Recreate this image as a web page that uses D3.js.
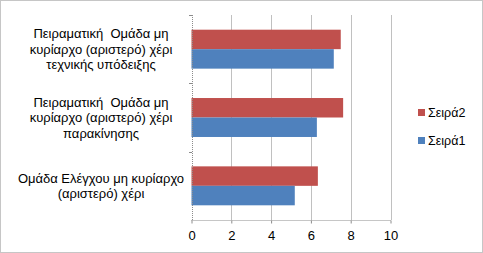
<!DOCTYPE html>
<html>
<head>
<meta charset="utf-8">
<script src="https://cdn.jsdelivr.net/npm/d3@7"></script>
<style>
  body { margin: 0; background: #fff; }
  text { font-family: "Liberation Sans", Arial, sans-serif; fill: #000; white-space: pre; }
</style>
</head>
<body>
<div id="chart"></div>
<script>
(function() {
  var width = 483, height = 253;

  // categories from top to bottom as in the chart
  var categories = [
    ["Πειραματική  Ομάδα μη", "κυρίαρχο (αριστερό) χέρι", "τεχνικής υπόδειξης"],
    ["Πειραματική  Ομάδα μη", "κυρίαρχο (αριστερό) χέρι", "παρακίνησης"],
    ["Ομάδα Ελέγχου μη κυρίαρχο", "(αριστερό) χέρι"]
  ];
  var seira2 = [7.5, 7.62, 6.35];
  var seira1 = [7.15, 6.3, 5.19];
  var seriesNames = ["Σειρά2", "Σειρά1"];
  var seriesColors = ["#C0504D", "#4F81BD"];
  var xTicks = [0, 2, 4, 6, 8, 10];

  var svg = d3.select("#chart").append("svg")
    .attr("width", width).attr("height", height);

  // outer border
  svg.append("rect")
    .attr("x", 0.5).attr("y", 0.5)
    .attr("width", width - 1).attr("height", height - 1)
    .style("fill", "none").style("stroke", "#8c8c8c")
    .style("stroke-dasharray", "1,1");

  var x = d3.scaleLinear().domain([0, 10]).range([191.5, 390.5]);
  var y = d3.scaleBand().domain(d3.range(categories.length))
    .range([15, 220]).paddingInner(0.43).paddingOuter(0.215);
  var ySub = d3.scaleBand().domain([0, 1]).range([0, y.bandwidth()]);

  // gridlines
  svg.append("g").selectAll("line").data(xTicks.slice(1)).enter()
    .append("line")
    .attr("x1", function(d) { return Math.round(x(d)) + 0.5; })
    .attr("x2", function(d) { return Math.round(x(d)) + 0.5; })
    .attr("y1", 15).attr("y2", 220)
    .style("stroke", "#c0c0c0").style("stroke-width", 1);

  // bars
  var groups = svg.append("g").selectAll("g").data(categories).enter()
    .append("g")
    .attr("transform", function(d, i) { return "translate(0," + y(i) + ")"; });

  groups.selectAll("rect").data(function(d, i) { return [seira2[i], seira1[i]]; })
    .enter().append("rect")
    .attr("x", x(0))
    .attr("y", function(d, j) { return ySub(j); })
    .attr("width", function(d) { return x(d) - x(0); })
    .attr("height", ySub.bandwidth())
    .style("fill", function(d, j) { return seriesColors[j]; });

  // x axis
  var xAxis = svg.append("g")
    .attr("transform", "translate(0,220.5)")
    .call(d3.axisBottom(x).tickValues(xTicks).tickSize(4).tickPadding(6));
  xAxis.select(".domain").style("stroke", "#8c8c8c").style("stroke-dasharray", "1,1")
    .attr("d", "M" + x(0) + ",0H" + x(10));
  xAxis.selectAll(".tick line").style("stroke", "#8c8c8c").attr("y1", 0).attr("y2", 3);
  xAxis.selectAll(".tick text")
    .style("font-size", "13px")
    .style("font-family", "Liberation Sans, Arial, sans-serif");

  // y axis line with category separator ticks
  var yLine = svg.append("g");
  yLine.append("line")
    .attr("x1", Math.round(x(0)) + 0.5).attr("x2", Math.round(x(0)) + 0.5)
    .attr("y1", 15).attr("y2", 220)
    .style("stroke", "#8c8c8c").style("stroke-dasharray", "1,1");
  var seps = [15].concat(d3.range(1, categories.length).map(function(i) {
    return y(i) - y.step() * y.paddingInner() / 2;
  }));
  yLine.selectAll("line.sep").data(seps).enter().append("line")
    .attr("class", "sep")
    .attr("x1", Math.round(x(0)) - 3).attr("x2", Math.round(x(0)))
    .attr("y1", function(d) { return Math.round(d) + 0.5; })
    .attr("y2", function(d) { return Math.round(d) + 0.5; })
    .style("stroke", "#8c8c8c");

  // category labels
  var labels = svg.append("g").selectAll("text").data(categories).enter()
    .append("text")
    .attr("text-anchor", "middle")
    .style("font-size", "13px")
    .attr("transform", function(d, i) {
      var cy = y(i) + y.bandwidth() / 2 - (d.length - 1) * 15.5 / 2 + 4.5;
      return "translate(101," + cy + ")";
    });
  labels.selectAll("tspan").data(function(d) { return d; }).enter()
    .append("tspan")
    .attr("x", 0)
    .attr("y", function(d, k) { return k * 15.5; })
    .text(function(d) { return d; });

  // legend
  var legend = svg.append("g").selectAll("g").data(seriesNames).enter()
    .append("g")
    .attr("transform", function(d, i) { return "translate(418," + (109 + i * 28) + ")"; });
  legend.append("rect")
    .attr("width", 7).attr("height", 7)
    .style("fill", function(d, i) { return seriesColors[i]; });
  legend.append("text")
    .attr("x", 10).attr("y", 8)
    .style("font-size", "12.5px")
    .text(function(d) { return d; });
})();
</script>
</body>
</html>
